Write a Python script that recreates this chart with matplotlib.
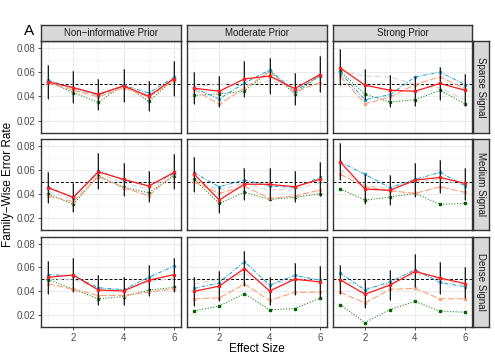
import matplotlib.pyplot as plt
import numpy as np

plt.rcParams['font.family'] = ['Liberation Sans', 'DejaVu Sans']

effect = [1, 2, 3, 4, 5, 6]
priors = ["Non\u2212informative Prior", "Moderate Prior", "Strong Prior"]
signals = ["Sparse Signal", "Medium Signal", "Dense Signal"]

# values indexed [signal][prior][effect]
red = [
    [[0.052, 0.0472, 0.0417, 0.0486, 0.040, 0.0547],
     [0.0467, 0.0442, 0.0544, 0.0567, 0.0464, 0.058],
     [0.0636, 0.0492, 0.045, 0.0442, 0.0506, 0.045]],
    [[0.045, 0.037, 0.0583, 0.052, 0.0464, 0.0578],
     [0.0564, 0.0347, 0.048, 0.0478, 0.0458, 0.052],
     [0.0667, 0.0439, 0.0428, 0.0514, 0.0536, 0.0486]],
    [[0.0517, 0.0536, 0.0409, 0.0401, 0.0492, 0.0539],
     [0.0398, 0.0442, 0.0591, 0.0401, 0.050, 0.0478],
     [0.0497, 0.0374, 0.0451, 0.0566, 0.0511, 0.0464]],
]
blue = [
    [[0.0533, 0.047, 0.041, 0.049, 0.0428, 0.0556],
     [0.047, 0.0378, 0.051, 0.0617, 0.0444, 0.057],
     [0.0595, 0.0372, 0.0414, 0.056, 0.060, 0.0497]],
    [[0.0458, 0.0367, 0.0589, 0.0514, 0.0467, 0.057],
     [0.0575, 0.0458, 0.0514, 0.0464, 0.0453, 0.0536],
     [0.0667, 0.0561, 0.045, 0.052, 0.0578, 0.0467]],
    [[0.0539, 0.053, 0.0429, 0.0412, 0.0517, 0.061],
     [0.0423, 0.047, 0.0649, 0.0451, 0.0533, 0.0492],
     [0.0552, 0.041, 0.0478, 0.058, 0.0473, 0.0437]],
]
salmon = [
    [[0.051, 0.045, 0.0395, 0.047, 0.0395, 0.053],
     [0.0458, 0.0333, 0.047, 0.060, 0.0436, 0.0514],
     [0.0567, 0.0339, 0.0394, 0.0497, 0.0561, 0.0464]],
    [[0.038, 0.0333, 0.0542, 0.045, 0.0383, 0.0561],
     [0.050, 0.0403, 0.0464, 0.0361, 0.038, 0.0431],
     [0.0564, 0.0458, 0.0425, 0.0403, 0.0458, 0.0411]],
    [[0.0462, 0.0415, 0.0363, 0.0363, 0.0393, 0.0418],
     [0.0335, 0.0343, 0.0459, 0.0321, 0.039, 0.039],
     [0.039, 0.030, 0.0415, 0.0423, 0.0335, 0.0335]],
]
green = [
    [[0.0525, 0.043, 0.035, 0.0497, 0.036, 0.054],
     [0.0408, 0.042, 0.0442, 0.061, 0.042, 0.0572],
     [0.061, 0.0417, 0.0353, 0.0372, 0.045, 0.0339]],
    [[0.040, 0.0311, 0.055, 0.0453, 0.0408, 0.055],
     [0.052, 0.0319, 0.0411, 0.0353, 0.0369, 0.040],
     [0.0439, 0.0347, 0.0372, 0.0403, 0.0311, 0.0319]],
    [[0.0497, 0.0415, 0.0335, 0.0354, 0.0409, 0.0431],
     [0.0233, 0.0274, 0.0379, 0.0242, 0.0253, 0.034],
     [0.0286, 0.0134, 0.0244, 0.0313, 0.0231, 0.0222]],
]
gray = [
    [[0.052, 0.046, 0.041, 0.048, 0.041, 0.054],
     [0.048, 0.050, 0.049, 0.053, 0.047, 0.050],
     [0.061, 0.0567, 0.056, 0.050, 0.047, 0.037]],
    [[0.042, 0.035, 0.057, 0.049, 0.044, 0.057],
     [0.051, 0.043, 0.049, 0.043, 0.044, 0.049],
     [0.060, 0.047, 0.044, 0.050, 0.052, 0.047]],
    [[0.050, 0.050, 0.042, 0.041, 0.048, 0.051],
     [0.046, 0.050, 0.055, 0.045, 0.050, 0.050],
     [0.050, 0.0423, 0.046, 0.055, 0.050, 0.045]],
]
err_lo = [
    [[0.0378, 0.0347, 0.0289, 0.0353, 0.0278, 0.040],
     [0.0336, 0.0311, 0.0394, 0.0417, 0.0325, 0.0439],
     [0.049, 0.0367, 0.031, 0.0317, 0.0372, 0.0317]],
    [[0.0319, 0.025, 0.0439, 0.038, 0.0333, 0.0436],
     [0.0417, 0.0236, 0.0347, 0.0347, 0.0328, 0.038],
     [0.0514, 0.0311, 0.0306, 0.0375, 0.0403, 0.0347]],
    [[0.0379, 0.0396, 0.0286, 0.028, 0.036, 0.0396],
     [0.0277, 0.0316, 0.0445, 0.028, 0.0368, 0.034],
     [0.0374, 0.0258, 0.0321, 0.0437, 0.0374, 0.0346]],
]
err_hi = [
    [[0.0656, 0.0611, 0.0544, 0.0625, 0.0525, 0.0692],
     [0.060, 0.057, 0.0689, 0.0714, 0.0594, 0.0736],
     [0.079, 0.0625, 0.058, 0.0567, 0.0644, 0.0583]],
    [[0.0578, 0.0492, 0.0736, 0.0658, 0.0592, 0.0728],
     [0.0703, 0.0464, 0.0611, 0.0611, 0.0592, 0.0661],
     [0.0825, 0.0564, 0.0556, 0.0658, 0.068, 0.0611]],
    [[0.0657, 0.0679, 0.0533, 0.0519, 0.0621, 0.0679],
     [0.0522, 0.0569, 0.074, 0.0522, 0.0638, 0.0616],
     [0.0621, 0.0492, 0.058, 0.0712, 0.0649, 0.0602]],
]

W, H = 495, 360
fig = plt.figure(figsize=(W / 100, H / 100), dpi=100)

col_x = [(41, 181), (187, 327), (333, 472)]
row_y = [(41, 133), (139, 230), (237, 327)]
border = "#333333"
strip_fc = "#D9D9D9"


def frac(x0, y0, x1, y1):
    return [x0 / W, 1 - y1 / H, (x1 - x0) / W, (y1 - y0) / H]


def strip(x0, y0, x1, y1, text, rot=0):
    sa = fig.add_axes(frac(x0, y0, x1, y1))
    sa.set_xticks([])
    sa.set_yticks([])
    sa.set_facecolor(strip_fc)
    for s in sa.spines.values():
        s.set_color(border)
        s.set_linewidth(1.0)
    sa.text(0.5, 0.5, text, ha="center", va="center", rotation=rot,
            fontsize=7, color="#1A1A1A", transform=sa.transAxes)


for r in range(3):
    for c in range(3):
        x0, x1 = col_x[c]
        y0, y1 = row_y[r]
        ax = fig.add_axes(frac(x0, y0, x1, y1))
        ax.set_xlim(0.72, 6.28)
        ax.set_ylim(0.0097, 0.0857)
        ax.set_xticks([2, 4, 6])
        ax.set_xticks([1, 3, 5], minor=True)
        ax.set_yticks([0.02, 0.04, 0.06, 0.08])
        ax.set_yticks([0.03, 0.05, 0.07], minor=True)
        ax.grid(True, which="major", color="#EBEBEB", lw=0.8)
        ax.grid(True, which="minor", color="#F3F3F3", lw=0.5)
        ax.set_axisbelow(True)
        for s in ax.spines.values():
            s.set_color(border)
            s.set_linewidth(1.0)
        ax.tick_params(which="major", length=2.5, width=0.6, color=border,
                       labelsize=7, labelcolor="#4D4D4D", pad=1.5)
        ax.tick_params(which="minor", length=0)
        if c > 0:
            ax.tick_params(axis="y", labelleft=False, length=0)
        else:
            ax.set_yticklabels(["0.02", "0.04", "0.06", "0.08"])
        if r < 2:
            ax.tick_params(axis="x", labelbottom=False, length=0)

        ax.axhline(0.05, color="black", ls=(0, (3, 2)), lw=0.7, zorder=2)
        ax.plot(effect, gray[r][c], color="#D6D6D6", ls=(0, (5, 3)), lw=0.8, zorder=3)
        ax.plot(effect, green[r][c], color="#2E8B2E", ls=(0, (1, 1.5)), lw=0.8,
                marker="s", ms=1.8, mfc="#006400", mec="#006400", zorder=4)
        ax.plot(effect, salmon[r][c], color="#FFA07A", ls=(0, (6, 2)), lw=0.8,
                marker="s", ms=1.8, zorder=4)
        ax.plot(effect, blue[r][c], color="#1AA0D8", ls=(0, (4, 1.5, 1, 1.5)), lw=0.7,
                marker="s", ms=1.4, zorder=5)
        mid = np.array(red[r][c])
        lo = mid - np.array(err_lo[r][c])
        hi = np.array(err_hi[r][c]) - mid
        ax.errorbar(effect, mid, yerr=[lo, hi], fmt="none", ecolor="#8C8C8C",
                    elinewidth=1.3, alpha=0.7, zorder=6)
        ax.errorbar(effect, mid, yerr=[lo, hi], fmt="none", ecolor="black",
                    elinewidth=0.6, zorder=7)
        ax.plot(effect, red[r][c], color="#FF1A1A", lw=0.9, marker="s", ms=1.4,
                zorder=8)

for c in range(3):
    strip(col_x[c][0], 25, col_x[c][1], 41, priors[c])
for r in range(3):
    strip(473, row_y[r][0], 489, row_y[r][1], signals[r], rot=-90)

fig.text(29 / W, 1 - 31 / H, "A", ha="center", va="center", fontsize=11)
fig.text(8 / W, 1 - 184 / H, "Family\u2212Wise Error Rate", rotation=90,
         ha="center", va="center", fontsize=8.5)
fig.text(257 / W, 1 - 349 / H, "Effect Size", ha="center", va="center",
         fontsize=8.5)

fig.savefig("out.png", dpi=100)
